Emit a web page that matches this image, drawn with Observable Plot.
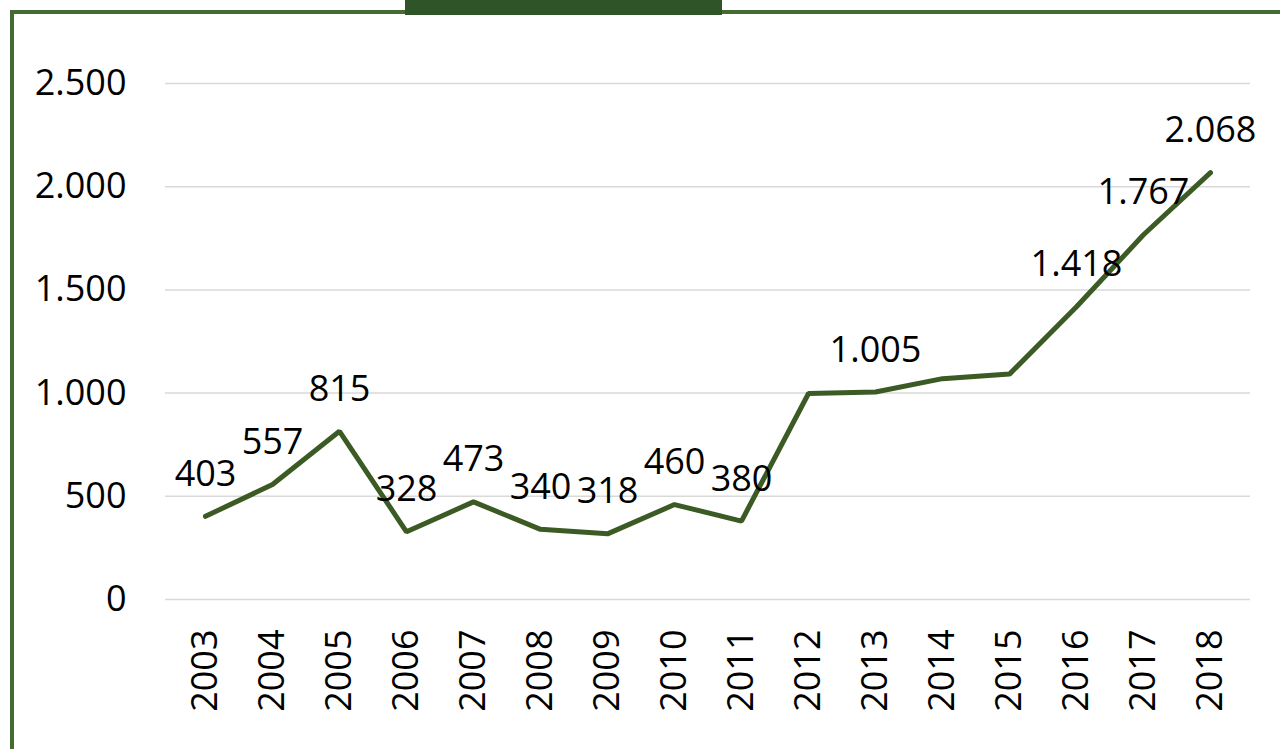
<!DOCTYPE html>
<html>
<head>
<meta charset="utf-8">
<script src="https://cdn.jsdelivr.net/npm/d3@7"></script>
<script src="https://cdn.jsdelivr.net/npm/@observablehq/plot@0.6"></script>
<style>
  html, body { margin: 0; padding: 0; background: #fff; }
  #wrap { position: relative; width: 1280px; height: 749px; overflow: hidden; }
  #frameLeft { position: absolute; left: 10px; top: 10px; width: 4px; height: 739px; background: #436c32; }
  #frameTop { position: absolute; left: 10px; top: 10px; width: 1270px; height: 4px; background: #436c32; }
  #tab { position: absolute; left: 405px; top: 0; width: 317px; height: 15px; background: #2e5428; }
  #chart { position: absolute; left: 0; top: 0; }
</style>
</head>
<body>
<div id="wrap">
  <div id="chart"></div>
  <div id="frameLeft"></div>
  <div id="frameTop"></div>
  <div id="tab"></div>
</div>
<script>
const years = ["2003","2004","2005","2006","2007","2008","2009","2010","2011","2012","2013","2014","2015","2016","2017","2018"];
const values = [403, 557, 815, 328, 473, 340, 318, 460, 380, 998, 1005, 1070, 1092, 1418, 1767, 2068];
const labels = ["403","557","815","328","473","340","318","460","380","","1.005","","","1.418","1.767","2.068"];
const yTicks = [0, 500, 1000, 1500, 2000, 2500];

const data = years.map((y, i) => ({year: y, value: values[i], label: labels[i]}));
const fmt = v => d3.format(",")(v).replace(/,/g, ".");

const chart = Plot.plot({
  width: 1280,
  height: 749,
  marginLeft: 165,
  marginRight: 30,
  marginTop: 83,
  marginBottom: 150,
  style: {fontFamily: "'Open Sans', sans-serif", fontSize: "36px", color: "#000", background: "transparent"},
  x: {type: "point", domain: years, padding: 0.5, label: null},
  y: {domain: [0, 2500], label: null},
  marks: [
    Plot.gridY(yTicks, {stroke: "#d9d9d9", strokeOpacity: 1, strokeWidth: 1.5}),
    Plot.axisY(yTicks, {tickSize: 0, tickPadding: 39, tickFormat: fmt, fontSize: 36, fill: "#000", label: null}),
    Plot.axisX({tickSize: 0, tickPadding: 30, tickRotate: -90, fontSize: 36, fill: "#000", label: null}),
    Plot.line(data, {x: "year", y: "value", stroke: "#3b5a24", strokeWidth: 5, strokeLinejoin: "miter", strokeLinecap: "round"}),
    Plot.text(data.filter(d => d.label !== ""), {x: "year", y: "value", text: "label", dy: -42, fontSize: 36, fill: "#000", textAnchor: "middle", lineAnchor: "middle"})
  ]
});
document.getElementById("chart").appendChild(chart);
</script>
</body>
</html>
